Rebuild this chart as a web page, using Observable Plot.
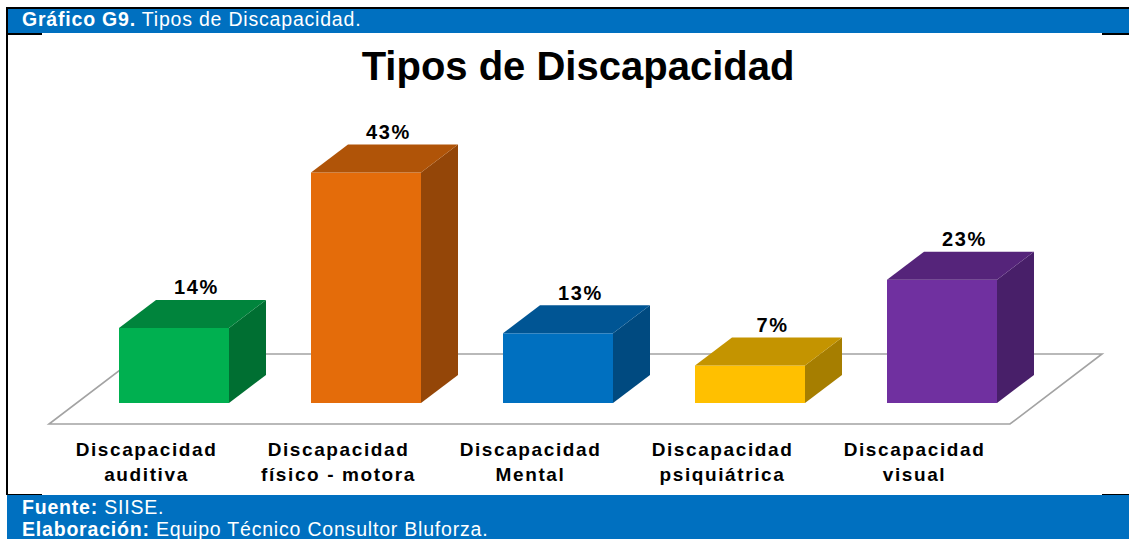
<!DOCTYPE html>
<html>
<head>
<meta charset="utf-8">
<script src="https://cdn.jsdelivr.net/npm/d3@7"></script>
<script src="https://cdn.jsdelivr.net/npm/@observablehq/plot@0.6"></script>
<style>
  html, body { margin: 0; padding: 0; background: #fff; }
  #wrap { position: relative; width: 1129px; height: 539px; overflow: hidden; font-family: "Liberation Sans", Arial, sans-serif; }
  .blk { position: absolute; background: #000; }
  .blue { position: absolute; background: #0070C0; }
  .htxt { position: absolute; color: #fff; font-size: 19.5px; line-height: 19px; letter-spacing: 0.8px; white-space: nowrap; left: 22px; }
  #title { position: absolute; left: 578px; top: 46px; transform: translateX(-50%); font-size: 40px; line-height: 40px; font-weight: bold; white-space: nowrap; color: #000; }
  #chart { position: absolute; left: 0; top: 101px; }
  #chart svg text { letter-spacing: 1.6px; }
</style>
</head>
<body>
<div id="wrap">
  <div class="blk" style="left:6px; top:7px; width:1123px; height:2px;"></div>
  <div class="blue" style="left:7px; top:9px; width:1122px; height:24px;"></div>
  <div class="blk" style="left:6px; top:7px; width:1.5px; height:488px;"></div>
  <div class="blk" style="left:7px; top:33px; width:35px; height:1.5px;"></div>
  <div class="blk" style="left:1102px; top:33px; width:27px; height:1.5px;"></div>
  <div class="htxt" style="top:10px;"><b>Gráfico G9.</b> Tipos de Discapacidad.</div>
  <div id="title">Tipos de Discapacidad</div>
  <div id="chart"></div>
  <div class="blk" style="left:7px; top:493.5px; width:35px; height:1.5px;"></div>
  <div class="blk" style="left:1102px; top:493.5px; width:27px; height:1.5px;"></div>
  <div class="blue" style="left:7px; top:495px; width:1122px; height:44px;"></div>
  <div class="htxt" style="top:498px;"><b>Fuente:</b> SIISE.</div>
  <div class="htxt" style="top:519.5px;"><b>Elaboración:</b> Equipo Técnico Consultor Bluforza.</div>
</div>
<script>
const categories = ["Discapacidad\nauditiva", "Discapacidad\nfísico - motora", "Discapacidad\nMental", "Discapacidad\npsiquiátrica", "Discapacidad\nvisual"];
const values = [14, 43, 13, 7, 23];
const frontColors = ["#00B050", "#E46C0A", "#0070C0", "#FFC000", "#7030A0"];
const topColors = ["#00843C", "#B05408", "#005594", "#C49400", "#55247A"];
const sideColors = ["#006F32", "#944608", "#004A80", "#A67E00", "#481F69"];

const data = categories.map((c, i) => ({cat: c, value: values[i], front: frontColors[i], top: topColors[i], side: sideColors[i]}));

const PAD = 0.428;
const DX = 37, DY = -28;

function bandInfo(scales) {
  const x = scales.x;
  let bw;
  if (typeof x.bandwidth === "function") bw = x.bandwidth();
  else bw = (x(categories[1]) - x(categories[0])) * (1 - PAD);
  return bw;
}

const floorMark = (index, scales) => {
  const bw = bandInfo(scales);
  const x0 = scales.x(categories[0]);
  const x1 = scales.x(categories[categories.length - 1]) + bw;
  const yb = scales.y(0);
  const pts = [[x0 - 70, yb + 21], [x1 + 13, yb + 21], [x1 + 105, yb - 49], [x0 + 22, yb - 49]];
  const g = d3.create("svg:g");
  g.append("polygon")
    .attr("points", pts.map(p => p.join(",")).join(" "))
    .attr("fill", "#fff")
    .attr("stroke", "#a3a3a3")
    .attr("stroke-width", 1.6);
  return g.node();
};

const facesMark = (index, scales) => {
  const bw = bandInfo(scales);
  const g = d3.create("svg:g");
  for (const d of data) {
    const x0 = scales.x(d.cat), x1 = x0 + bw;
    const yt = scales.y(d.value), yb = scales.y(0);
    g.append("polygon")
      .attr("points", [[x1, yb], [x1 + DX, yb + DY], [x1 + DX, yt + DY], [x1, yt]].map(p => p.join(",")).join(" "))
      .attr("fill", d.side);
    g.append("polygon")
      .attr("points", [[x0, yt], [x0 + DX, yt + DY], [x1 + DX, yt + DY], [x1, yt]].map(p => p.join(",")).join(" "))
      .attr("fill", d.top);
  }
  return g.node();
};

const chart = Plot.plot({
  width: 1129,
  height: 393,
  marginLeft: 118,
  marginRight: 132,
  marginTop: 34,
  marginBottom: 91,
  x: {domain: categories, paddingInner: PAD, paddingOuter: 0, axis: null},
  y: {domain: [0, 50], axis: null},
  color: {type: "identity"},
  style: {fontFamily: "'Liberation Sans', Arial, sans-serif", background: "transparent", overflow: "visible", color: "#000"},
  marks: [
    floorMark,
    Plot.barY(data, {x: "cat", y: "value", fill: "front"}),
    facesMark,
    Plot.text(data, {x: "cat", y: "value", text: d => d.value + "%", dx: 22, dy: -34, lineAnchor: "bottom", fontSize: 20, fontWeight: "bold", fill: "#000"}),
    Plot.text(data, {x: "cat", text: "cat", frameAnchor: "bottom", lineAnchor: "top", dy: 35, dx: -28, fontSize: 19, fontWeight: "bold", lineHeight: 1.32, fill: "#000"})
  ]
});
document.getElementById("chart").appendChild(chart);
</script>
</body>
</html>
